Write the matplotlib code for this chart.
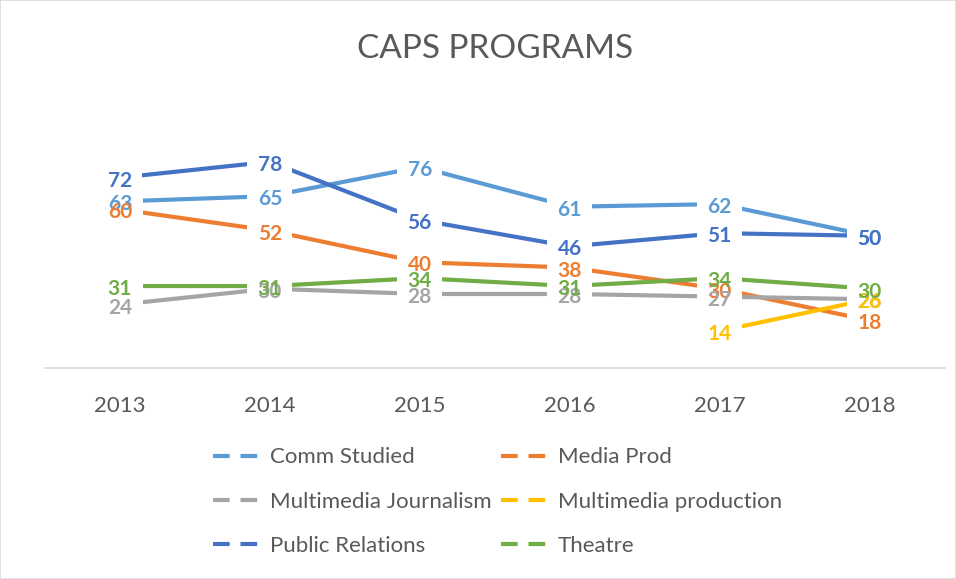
import matplotlib.pyplot as plt
from matplotlib.lines import Line2D
from matplotlib.patches import Rectangle
import matplotlib.transforms as mtransforms
import numpy as np

plt.rcParams['font.family'] = ['Lato', 'DejaVu Sans']

years = ["2013", "2014", "2015", "2016", "2017", "2018"]
comm_studied = [63, 65, 76, 61, 62, 50]
media_prod = [60, 52, 40, 38, 30, 18]
mm_journalism = [24, 30, 28, 28, 27, 26]
mm_production = [np.nan, np.nan, np.nan, np.nan, 14, 26]
public_relations = [72, 78, 56, 46, 51, 50]
theatre = [31, 31, 34, 31, 34, 30]

series = [
    ("Comm Studied", comm_studied, "#5B9BD5"),
    ("Media Prod", media_prod, "#ED7D31"),
    ("Multimedia Journalism", mm_journalism, "#A5A5A5"),
    ("Multimedia production", mm_production, "#FFC000"),
    ("Public Relations", public_relations, "#4472C4"),
    ("Theatre", theatre, "#70AD47"),
]

fig = plt.figure(figsize=(9.56, 5.79), dpi=100)
ax = fig.add_axes([0.047, 0.3644, 0.941, 0.411])
x = np.arange(len(years))

# labels sit a touch below the point, as in the source
lbl_tr = ax.transData + mtransforms.ScaledTranslation(0, -3 / 100, fig.dpi_scale_trans)

# lines
for name, vals, col in series:
    ax.plot(x, vals, color=col, lw=3, solid_capstyle='butt', zorder=2)

# white knock-outs behind labels so the lines stop short of them
for name, vals, col in series:
    for xi, v in zip(x, vals):
        if np.isnan(v):
            continue
        ax.text(xi, v, f"{v:.0f}", ha='center', va='center', fontsize=15,
                fontweight='bold', color='white', zorder=3, transform=lbl_tr,
                bbox=dict(boxstyle='square,pad=0.5', fc='white', ec='none'))

# labels on top
for name, vals, col in series:
    for xi, v in zip(x, vals):
        if np.isnan(v):
            continue
        ax.text(xi, v, f"{v:.0f}", ha='center', va='center', fontsize=15,
                fontweight='bold', color=col, zorder=4, transform=lbl_tr)

ax.set_xlim(-0.5, len(years) - 0.5)
ax.set_ylim(0, 90)
ax.set_xticks(x)
ax.set_xticklabels(years, fontsize=16, color='#595959')
ax.set_yticks([])
ax.tick_params(axis='x', length=0, pad=20)
for s in ['top', 'left', 'right']:
    ax.spines[s].set_visible(False)
ax.spines['bottom'].set_color('#D9D9D9')
ax.spines['bottom'].set_linewidth(1.2)

fig.text(0.518, 0.915, "CAPS PROGRAMS", ha='center', va='center',
         fontsize=24, color='#595959')

# legend, row-major order like the source
order = [0, 2, 4, 1, 3, 5]
handles = [Line2D([0], [0], color=series[i][2], lw=3, dashes=(4.0, 2.6))
           for i in order]
labels = [series[i][0] for i in order]
fig.legend(handles, labels, ncol=2, frameon=False, fontsize=16,
           labelcolor='#595959', loc='upper left',
           bbox_to_anchor=(0.202, 0.262), handlelength=2.2,
           handletextpad=0.35, columnspacing=0.45, labelspacing=1.1)

fig.patches.append(Rectangle((0, 0), 1, 1, transform=fig.transFigure,
                             fill=False, ec='#D9D9D9', lw=1.2))

fig.savefig("out.png", dpi=100)
